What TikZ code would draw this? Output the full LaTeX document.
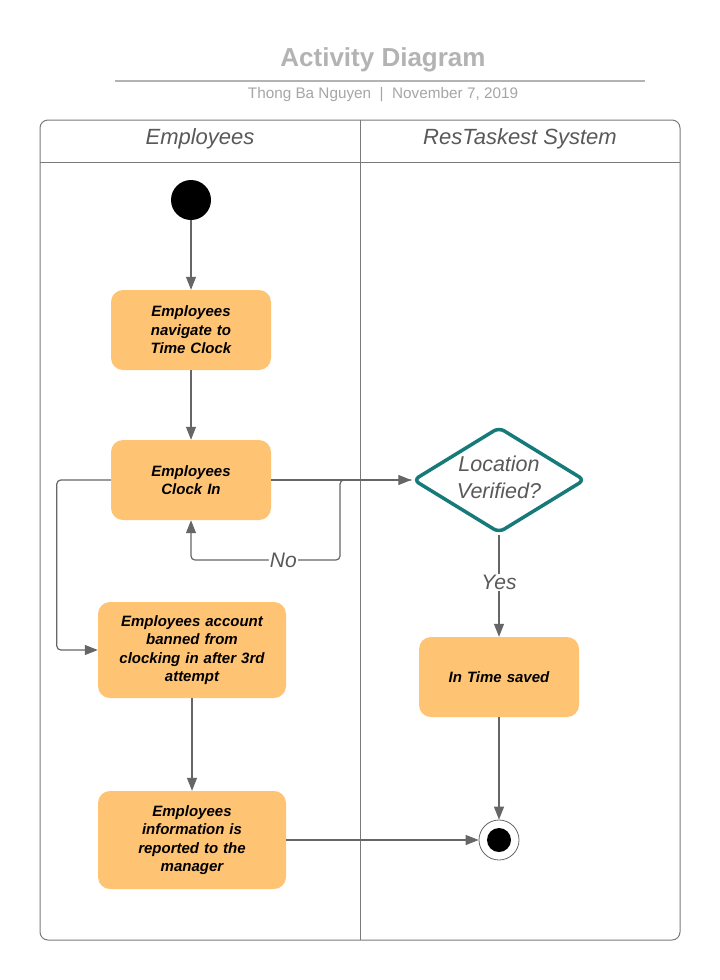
\documentclass[tikz,border=0pt]{standalone}
\usepackage{fontspec}
\setmainfont{Liberation Sans}
\usetikzlibrary{arrows.meta,shapes.geometric}
\definecolor{boxfill}{HTML}{FFC374}
\definecolor{teal2}{HTML}{167A7A}
\definecolor{linec}{HTML}{666666}
\definecolor{framec}{HTML}{7A7A7A}
\definecolor{titlec}{HTML}{B3B3B3}
\definecolor{subc}{HTML}{A6A6A6}
\definecolor{labc}{HTML}{595959}
\tikzset{
  act/.style={rectangle, rounded corners=12pt, fill=boxfill, minimum width=160pt, minimum height=80pt,
    text width=150pt, align=center, inner sep=0pt,
    font=\bfseries\itshape\fontsize{15}{18.5}\selectfont},
  flow/.style={draw=linec, line width=1.2pt, -{Triangle[length=13pt,width=10pt]}},
  lab/.style={fill=white, inner sep=1pt, text=labc, font=\itshape\fontsize{21}{24}\selectfont},
  lanehead/.style={text=labc, font=\itshape\fontsize{22}{26}\selectfont},
}
\begin{document}
\begin{tikzpicture}[x=1pt,y=-1pt]
\useasboundingbox[fill=white] (0,0) rectangle (720,980);
% title
\node[text=titlec, font=\bfseries\fontsize{26}{30}\selectfont] (title) at (383,60) {Activity Diagram};
\draw[titlec, line width=1.5pt] (115,81) -- (645,81);
\node[text=subc, font=\fontsize{15.3}{18}\selectfont] (sub) at (383,95) {Thong Ba Nguyen~~|~~November 7, 2019};
% frame
\draw[framec, line width=1pt, rounded corners=8pt] (40,120) rectangle (680,940);
\draw[framec, line width=1pt] (40,162) -- (680,162);
\draw[framec, line width=1pt] (360,120) -- (360,940);
\node[lanehead] (h1) at (200,139) {Employees};
\node[lanehead] (h2) at (520,139) {ResTaskest System};
% nodes
\node[circle, fill=black, minimum size=40pt, inner sep=0pt] (start) at (191,200) {};
\node[act] (b1) at (191,330) {Employees\\navigate to\\Time Clock};
\node[act] (b2) at (191,480) {Employees\\Clock In};
\node[act, minimum width=188pt, minimum height=96pt, text width=180pt] (b3) at (192,650) {Employees account\\banned from\\clocking in after 3rd\\attempt};
\node[act, minimum width=188pt, minimum height=98pt, text width=180pt] (b4) at (192,840) {Employees\\information is\\reported to the\\manager};
\node[diamond, draw=teal2, line width=3.5pt, rounded corners=6pt, minimum width=172pt, minimum height=106pt,
  inner sep=0pt] (dia) at (499,480) {};
\node[align=center, text=labc, inner sep=0pt, font=\itshape\fontsize{21.5}{27}\selectfont] (diatext) at (499,477) {Location\\Verified?};
\node[act] (b5) at (499,677) {In Time saved};
\node[circle, draw=linec, line width=0.8pt, fill=white, minimum size=40pt, inner sep=0pt] (end) at (499,840) {};
\node[circle, fill=black, minimum size=24pt, inner sep=0pt] (endin) at (499,840) {};
% connectors
\coordinate (nk) at (340,560);
\draw[flow] (start) -- (b1);
\draw[flow] (b1) -- (b2);
\draw[flow] (b2.east) -- (dia.west);
\draw[flow, rounded corners=4pt] (dia.west) -| (nk) -- node[lab, pos=0.38] {No} (b2.south |- nk) -- (b2.south);
\draw[flow, rounded corners=4pt] (b2.west) -- ++(-54,0) |- (b3.west);
\draw[flow] (b3) -- (b4);
\draw[flow] (dia.south) -- node[lab, pos=0.47] {Yes} (b5.north);
\draw[flow] (b5) -- (end);
\draw[flow] (b4.east) -- (end.west);
\end{tikzpicture}
\end{document}
